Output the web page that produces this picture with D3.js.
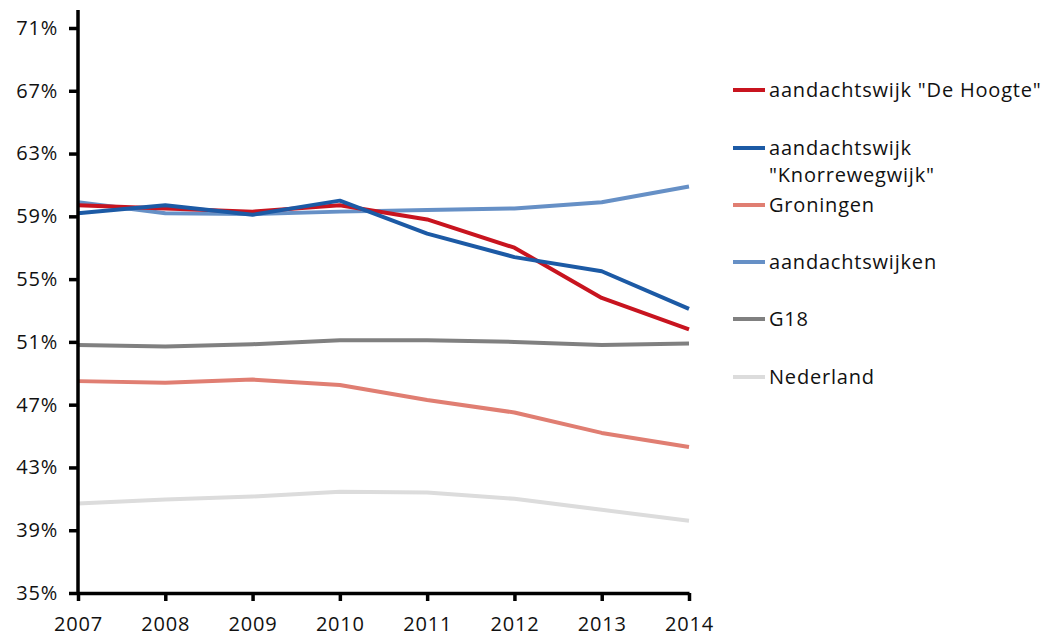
<!DOCTYPE html>
<html lang="nl">
  <head>
    <meta charset="utf-8">
    <title>Aandachtswijken</title>
    <style>
      body { margin: 0; background: #fff; }
      svg text { font-family: 'Open Sans', 'Noto Sans', sans-serif; fill: #111; letter-spacing: 0.8px; }
    </style>
  </head>
  <body>
    <div id="chart-area"></div>
    <script src="https://cdn.jsdelivr.net/npm/d3@7/dist/d3.min.js"></script>
    <script>
      const years = [2007, 2008, 2009, 2010, 2011, 2012, 2013, 2014];
      const y_ticks = [35, 39, 43, 47, 51, 55, 59, 63, 67, 71];

      const series_names = [
        'aandachtswijk "De Hoogte"',
        'aandachtswijk\n"Knorrewegwijk"',
        'Groningen',
        'aandachtswijken',
        'G18',
        'Nederland'
      ];
      const series_colors = ['#c8141f', '#1c5aa5', '#e07e72', '#6690c6', '#808080', '#dcdcdc'];

      const de_hoogte       = [59.7, 59.5, 59.3, 59.7, 58.8, 57.0, 53.8, 51.8];
      const knorrewegwijk   = [59.2, 59.7, 59.1, 60.0, 57.9, 56.4, 55.5, 53.1];
      const groningen       = [48.5, 48.4, 48.6, 48.25, 47.3, 46.5, 45.2, 44.3];
      const aandachtswijken = [59.9, 59.2, 59.15, 59.3, 59.4, 59.5, 59.9, 60.9];
      const g18             = [50.8, 50.7, 50.85, 51.1, 51.1, 51.0, 50.8, 50.9];
      const nederland       = [40.7, 40.95, 41.15, 41.45, 41.4, 41.0, 40.3, 39.6];

      const all_values = [de_hoogte, knorrewegwijk, groningen, aandachtswijken, g18, nederland];
      // draw order: light ones first so the red/blue end up on top
      const draw_order = [5, 4, 2, 3, 0, 1];

      const svg_width = 1054;
      const svg_height = 638;
      const margin = {left: 78, top: 10, plot_right: 689, bottom: 593};

      const x_scale = d3.scaleLinear()
        .domain([2007, 2014])
        .range([margin.left, margin.plot_right]);
      const y_scale = d3.scaleLinear()
        .domain([35, 71])
        .range([margin.bottom, 28]);

      const svg = d3.select('#chart-area')
        .append('svg')
        .attr('width', svg_width)
        .attr('height', svg_height);

      // lines
      const line = d3.line()
        .x((d, i) => x_scale(years[i]))
        .y(d => y_scale(d));

      svg.selectAll('path.series')
        .data(draw_order)
        .enter()
        .append('path')
        .attr('class', 'series')
        .attr('d', k => line(all_values[k]))
        .attr('fill', 'none')
        .attr('stroke', k => series_colors[k])
        .attr('stroke-width', 4)
        .attr('stroke-linejoin', 'round');

      // y axis
      const y_axis = d3.axisLeft(y_scale)
        .tickValues(y_ticks)
        .tickFormat(d => d + '%')
        .tickSize(9)
        .tickPadding(11);
      const y_g = svg.append('g')
        .attr('transform', `translate(${margin.left},0)`)
        .call(y_axis);
      y_g.select('.domain').remove();
      y_g.append('line')
        .attr('x1', 0).attr('x2', 0)
        .attr('y1', margin.top).attr('y2', margin.bottom)
        .attr('stroke', '#000').attr('stroke-width', 3.5);
      y_g.selectAll('.tick line').attr('stroke', '#000').attr('stroke-width', 3.5);
      y_g.selectAll('.tick text')
        .attr('font-size', 20)
        .style('font-family', "'Open Sans', sans-serif")
        .attr('fill', '#111');

      // x axis
      const x_axis = d3.axisBottom(x_scale)
        .tickValues(years)
        .tickFormat(d3.format('d'))
        .tickSize(8)
        .tickSizeOuter(0)
        .tickPadding(16);
      const x_g = svg.append('g')
        .attr('transform', `translate(0,${margin.bottom})`)
        .call(x_axis);
      x_g.select('.domain')
        .attr('stroke', '#000').attr('stroke-width', 3.5);
      x_g.selectAll('.tick line').attr('stroke', '#000').attr('stroke-width', 3.5);
      x_g.selectAll('.tick text')
        .attr('font-size', 20)
        .style('font-family', "'Open Sans', sans-serif")
        .attr('fill', '#111');

      // legend
      const legend_y = [90, 148, 205, 262, 319, 377];
      const legend = svg.selectAll('g.legend')
        .data(series_names)
        .enter()
        .append('g')
        .attr('class', 'legend')
        .attr('transform', (d, i) => `translate(733,${legend_y[i]})`);
      legend.append('line')
        .attr('x1', 0).attr('x2', 32)
        .attr('y1', 0).attr('y2', 0)
        .attr('stroke', (d, i) => series_colors[i])
        .attr('stroke-width', 4);
      legend.selectAll('text')
        .data(d => d.split('\n'))
        .enter()
        .append('text')
        .attr('x', 36)
        .attr('y', (d, i) => 7 + i * 27)
        .attr('font-size', 20)
        .text(d => d);
    </script>
  </body>
</html>
